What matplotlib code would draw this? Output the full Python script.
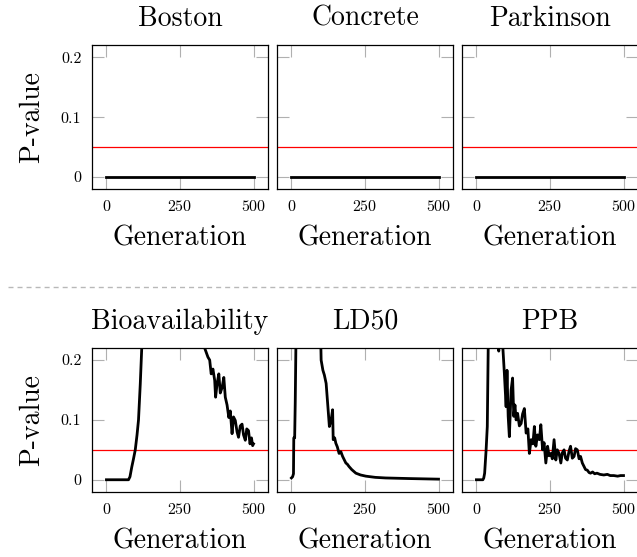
import matplotlib
matplotlib.use('Agg')
import matplotlib.pyplot as plt
from matplotlib.lines import Line2D

plt.rcParams['font.family'] = 'cmr10'
plt.rcParams['mathtext.fontset'] = 'cm'
plt.rcParams['axes.formatter.use_mathtext'] = True

# data
top_names = ['Boston', 'Concrete', 'Parkinson']
bottom_names = ['Bioavailability', 'LD50', 'PPB']

flat_gen = [0, 500]
flat_p = [0, 0]

bio_gen = [0, 75, 80, 86, 92, 98, 104, 109, 115, 120, 128, 145, 170, 220, 270, 310,
           334, 345, 351, 356, 362, 368, 371, 376, 382, 387, 393, 399, 404, 410, 416,
           421, 427, 432, 438, 444, 449, 455, 461, 466, 472, 477, 483, 488, 493, 497, 500]
bio_p = [0, 0, 0.005, 0.021, 0.035, 0.05, 0.075, 0.1, 0.16, 0.22, 0.32, 0.45, 0.6, 0.7, 0.6, 0.4,
         0.22, 0.205, 0.2, 0.177, 0.185, 0.166, 0.138, 0.16, 0.177, 0.145, 0.154, 0.171, 0.138, 0.125, 0.104,
         0.115, 0.077, 0.105, 0.099, 0.08, 0.071, 0.09, 0.093, 0.075, 0.066, 0.085, 0.082, 0.06, 0.07, 0.057, 0.06]

ld50_gen = [0, 4, 7, 8, 11, 13, 17, 22, 40, 70, 95, 101, 107, 112, 118, 124, 129, 135, 140, 142,
            147, 151, 156, 162, 168, 174, 180, 185, 190, 196, 205, 219, 235, 253, 285, 320, 400, 500]
ld50_p = [0.003, 0.005, 0.01, 0.07, 0.07, 0.13, 0.3, 0.5, 0.8, 0.7, 0.35, 0.2, 0.183, 0.175, 0.161,
          0.122, 0.089, 0.1, 0.117, 0.067, 0.07, 0.061, 0.055, 0.044, 0.047, 0.039, 0.033, 0.028,
          0.026, 0.022, 0.017, 0.011, 0.008, 0.006, 0.004, 0.003, 0.002, 0.001]

ppb_gen = [0, 22, 25, 28, 33, 37, 42, 60, 73, 76, 79, 85, 90, 95, 101, 104, 108, 112, 118, 123,
           127, 131, 135, 140, 146, 152, 157, 163, 169, 175, 180, 186, 192, 197, 202, 208, 214,
           219, 225, 230, 236, 242, 247, 253, 258, 264, 270, 275, 281, 287, 292, 298, 303, 309,
           315, 320, 326, 332, 337, 343, 349, 354, 360, 366, 371, 377, 383, 388, 395, 402, 410,
           420, 433, 445, 455, 467, 480, 490, 500]
ppb_p = [0, 0, 0.003, 0.011, 0.05, 0.089, 0.3, 0.4, 0.23, 0.215, 0.25, 0.5, 0.22, 0.178, 0.122,
         0.183, 0.106, 0.072, 0.15, 0.17, 0.106, 0.125, 0.1, 0.111, 0.09, 0.094, 0.11, 0.119,
         0.078, 0.085, 0.044, 0.067, 0.06, 0.089, 0.056, 0.075, 0.067, 0.092, 0.05, 0.062, 0.028,
         0.056, 0.04, 0.044, 0.035, 0.067, 0.033, 0.05, 0.044, 0.028, 0.045, 0.05, 0.036, 0.033,
         0.048, 0.056, 0.036, 0.039, 0.052, 0.05, 0.035, 0.039, 0.028, 0.022, 0.017, 0.016, 0.012,
         0.011, 0.013, 0.01, 0.011, 0.009, 0.008, 0.009, 0.007, 0.007, 0.006, 0.007, 0.007]

threshold = 0.05
xticks = [0, 250, 500]
yticks = [0, 0.1, 0.2]
yticklabels = ['0', '0.1', '0.2']

fig = plt.figure(figsize=(6.37, 5.57), dpi=100)

lefts = [0.1440, 0.4344, 0.7248]
rows = [(0.6607, top_names, [(flat_gen, flat_p)] * 3),
        (0.1172, bottom_names, [(bio_gen, bio_p), (ld50_gen, ld50_p), (ppb_gen, ppb_p)])]

for bottom, names, series in rows:
    for i in range(3):
        ax = fig.add_axes([lefts[i], bottom, 0.2771, 0.2578])
        gen, p = series[i]
        ax.axhline(threshold, color='red', lw=0.9, zorder=2)
        ax.plot(gen, p, color='black', lw=2.0, zorder=3, solid_joinstyle='round')
        ax.set_xlim(-50, 550)
        ax.set_ylim(-0.02, 0.22)
        ax.set_xticks(xticks)
        ax.set_yticks(yticks)
        ax.tick_params(direction='in', length=8.4, width=0.8, color='#b0b0b0',
                       top=True, right=True, labelsize=11.5, pad=7.5)
        for s in ax.spines.values():
            s.set_linewidth(0.9)
            s.set_zorder(4)
        ax.set_title(names[i], fontsize=20, pad=14)
        ax.set_xlabel('Generation', fontsize=20, labelpad=8)
        if i == 0:
            ax.set_yticklabels(yticklabels)
            ax.set_ylabel('P-value', fontsize=20, labelpad=11)
        else:
            ax.set_yticklabels([])

# dashed separator between the two rows
y_sep = 1 - 287.3 / 557
fig.add_artist(Line2D([8 / 637, 1], [y_sep, y_sep], transform=fig.transFigure,
                      color='#b8b8b8', lw=1.0, ls=(0, (3.6, 2.9))))

fig.savefig('out.png', dpi=100)
